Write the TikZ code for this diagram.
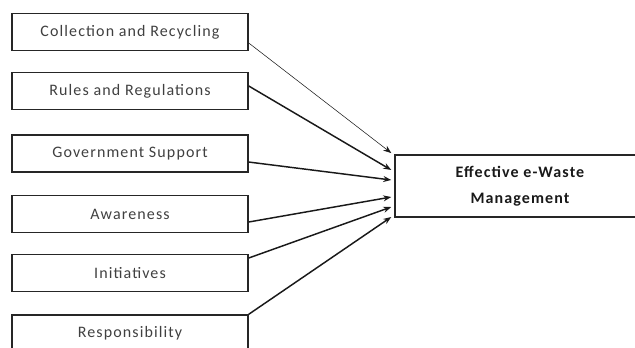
\documentclass[tikz,border=0pt]{standalone}
\usepackage{fontspec}
\setmainfont{Carlito}[LetterSpace=7]
\usetikzlibrary{arrows.meta}

\begin{document}
\begin{tikzpicture}[x=0.75pt,y=-0.75pt,>={Stealth[length=6pt,width=4.5pt]},
    factor/.style={draw=black!85,line width=1.1pt,minimum width=177pt,minimum height=27.75pt,
      inner sep=0pt,font=\fontsize{12}{14}\selectfont,text=black!75},
    outcome/.style={factor,minimum width=187.5pt,minimum height=46.5pt,align=center,
      font=\fontsize{12}{19.5}\selectfont\bfseries,text=black!90},
    link/.style={->,line width=1.1pt,black!90}]
  \useasboundingbox (0,0) rectangle (635,347);
  \clip (0,0) rectangle (635,347);
  % influencing factors
  \node[factor] (collect) at (130,32) {Collection and Recycling};
  \node[factor] (rules) at (130,91) {Rules and Regulations};
  \node[factor] (govt) at (130,153.5) {Government Support};
  \node[factor] (aware) at (130,214) {Awareness};
  \node[factor] (init) at (130,273) {Initiatives};
  \node[factor] (resp) at (130,333.5) {Responsibility};
  % outcome
  \node[outcome] (ewaste) at (520,186) {Effective e-Waste\\Management};
  % links
  \draw[link,line width=0.4pt] ([yshift=-8.25pt]collect.east) -- ([xshift=-2.25pt,yshift=24.75pt]ewaste.west);
  \draw[link] ([yshift=3.75pt]rules.east) -- ([xshift=-2.25pt,yshift=12pt]ewaste.west);
  \draw[link] ([yshift=-6.4pt]govt.east) -- ([xshift=-2.25pt,yshift=4.5pt]ewaste.west);
  \draw[link] ([yshift=-6pt]aware.east) -- ([xshift=-2.25pt,yshift=-8.25pt]ewaste.west);
  \draw[link] ([yshift=11.25pt]init.east) -- ([xshift=-2.25pt,yshift=-15.75pt]ewaste.west);
  \draw[link] (resp.north east) -- ([xshift=-2.25pt,yshift=-23.25pt]ewaste.west);
\end{tikzpicture}
\end{document}
